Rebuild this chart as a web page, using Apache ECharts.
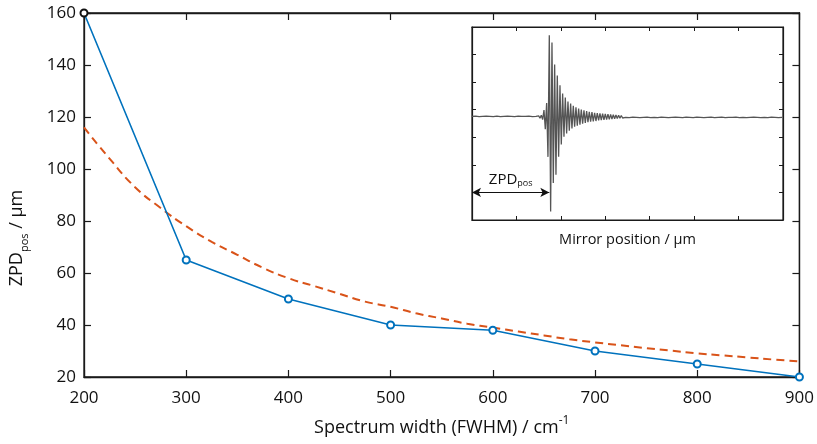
<!DOCTYPE html>
<html>
<head>
<meta charset="utf-8">
<script src="https://cdn.jsdelivr.net/npm/echarts@6/dist/echarts.min.js"></script>
<style>
html,body{margin:0;padding:0;background:#fff;}
#chart{width:817px;height:444px;}
</style>
</head>
<body>
<div id="chart"></div>
<script>
// ---- main chart data ----
const xTicks = [200, 300, 400, 500, 600, 700, 800, 900];
const yTicks = [20, 40, 60, 80, 100, 120, 140, 160];
const widths = [200, 300, 400, 500, 600, 700, 800, 900];
const zpdMeasured = [160, 65, 50, 40, 38, 30, 25, 20];
const fitWidths = [200, 225, 250, 275, 300, 325, 350, 375, 400, 425, 450, 475, 500, 525, 550, 575, 600, 625, 650, 675, 700, 725, 750, 775, 800, 825, 850, 875, 900];
const fitValues = [116, 104, 93, 85, 78, 72, 67, 62, 58, 55, 52, 49, 47, 44.5, 42.5, 40.5, 39, 37.5, 36, 34.5, 33.3, 32.2, 31.1, 30.1, 29.1, 28.3, 27.5, 26.7, 26];

// ---- inset (interferogram) data ----
const insetBaseline = 3.74;
const preStart = 0, preStep = 0.04;
const preNoise = [0.02,-0.01,0.03,-0.02,0.01,-0.03,0.02,-0.02,0.03,-0.01,0.02,-0.03,0.01,-0.02,0.03,-0.02,0.01,-0.03,0.02,-0.01,0.03,-0.02,0.02,-0.03,0.01,-0.02,0.03,-0.01,0.02,-0.03,0.02,-0.01,0.03,-0.02,0.01,-0.03,0.02,-0.02];
const burstStart = 1.50, burstStep = 0.03;
const burst = [0.04,-0.05,0.06,-0.1,0.25,-0.45,0.5,-1.45,2.96,-3.43,2.7,-2.4,1.9,-2.1,1.5,-1.45,1.15,-1.0,0.85,-0.72,0.7,-0.6,0.56,-0.5,0.48,-0.42,0.4,-0.36,0.35,-0.32,0.3,-0.28,0.27,-0.25,0.24,-0.22,0.21,-0.19,0.18,-0.17,0.17,-0.16,0.15,-0.15,0.14,-0.13,0.13,-0.12,0.12,-0.11,0.11,-0.1,0.1,-0.09,0.09,-0.08,0.08,-0.07,0.07,-0.06,0.06,-0.05,0.05,-0.04];
const postStart = 3.42, postStep = 0.04;
const postNoise = [
  0.03,-0.02,0.01,-0.03,0.02,-0.01,0.03,-0.02,0.02,-0.03,
  0.01,-0.02,0.03,-0.01,0.02,-0.03,0.02,-0.02,0.01,-0.03,
  0.03,-0.01,0.02,-0.02,0.03,-0.03,0.01,-0.02,0.02,-0.01,
  0.03,-0.02,0.02,-0.03,0.01,-0.01,0.03,-0.02,0.02,-0.03,
  0.02,-0.01,0.03,-0.02,0.01,-0.03,0.02,-0.02,0.03,-0.01,
  0.01,-0.03,0.02,-0.02,0.03,-0.01,0.02,-0.03,0.01,-0.02,
  0.03,-0.02,0.02,-0.01,0.01,-0.03,0.03,-0.02,0.02,-0.03,
  0.01,-0.02,0.03,-0.01,0.02,-0.02,0.03,-0.03,0.01,-0.02,
  0.02,-0.03,0.03,-0.01,0.02,-0.02,0.01,-0.03,0.03,-0.02];
const zpdArrowPos = 1.74;
const zpdArrowLevel = 1.0;

function seg(start, step, vals) {
  return vals.map((v, i) => [+(start + i * step).toFixed(4), v + insetBaseline]);
}
const insetData = seg(preStart, preStep, preNoise)
  .concat(seg(burstStart, burstStep, burst))
  .concat(seg(postStart, postStep, postNoise));

const FONT = '"Open Sans", "Noto Sans", sans-serif';
const AX = '#1a1a1a';

function mainX(pos, showLabels) {
  return {
    type: 'value', gridIndex: 0, position: pos,
    min: xTicks[0], max: xTicks[xTicks.length - 1], interval: 100,
    axisLine: { show: true, onZero: false, lineStyle: { color: AX, width: 1.3 } },
    axisTick: { show: true, inside: true, length: 7, lineStyle: { color: AX, width: 1.2 } },
    axisLabel: { show: showLabels, fontFamily: FONT, fontSize: 17, color: '#111', margin: 13 },
    splitLine: { show: false }
  };
}
function mainY(pos, showLabels) {
  return {
    type: 'value', gridIndex: 0, position: pos,
    min: yTicks[0], max: yTicks[yTicks.length - 1], interval: 20,
    axisLine: { show: true, onZero: false, lineStyle: { color: AX, width: 1.3 } },
    axisTick: { show: true, inside: true, length: 7, lineStyle: { color: AX, width: 1.2 } },
    axisLabel: { show: showLabels, fontFamily: FONT, fontSize: 17, color: '#111', margin: 8 },
    splitLine: { show: false }
  };
}
function insetAxis(pos) {
  return {
    type: 'value', gridIndex: 1, position: pos,
    min: 0, max: 7, interval: 1,
    axisLine: { show: true, onZero: false, lineStyle: { color: AX, width: 1.2 } },
    axisTick: { show: true, inside: true, length: 4, lineStyle: { color: AX, width: 1 } },
    axisLabel: { show: false },
    splitLine: { show: false }
  };
}

const chart = echarts.init(document.getElementById('chart'), null, { renderer: 'canvas' });

const xMain = mainX('bottom', true);
xMain.name = '{a|Spectrum width (FWHM) / cm}{s|-1}';
xMain.nameLocation = 'middle';
xMain.nameGap = 38;
xMain.nameTextStyle = {
  rich: {
    a: { fontFamily: FONT, fontSize: 18, color: '#111', lineHeight: 26 },
    s: { fontFamily: FONT, fontSize: 12, color: '#111', lineHeight: 12, verticalAlign: 'top' }
  }
};
const yMain = mainY('left', true);
yMain.name = '{a|ZPD}{b|pos}{a| / μm}';
yMain.nameLocation = 'middle';
yMain.nameGap = 54;
yMain.nameTextStyle = {
  padding: [0, 86, 0, 0],
  rich: {
    a: { fontFamily: FONT, fontSize: 18, color: '#111', lineHeight: 26 },
    b: { fontFamily: FONT, fontSize: 11, color: '#111', lineHeight: 12, verticalAlign: 'bottom' }
  }
};

const xInset = insetAxis('bottom');
xInset.name = 'Mirror position / μm';
xInset.nameLocation = 'middle';
xInset.nameGap = 12;
xInset.nameTextStyle = { fontFamily: FONT, fontSize: 14.5, color: '#111' };

chart.setOption({
  animation: false,
  backgroundColor: '#fff',
  grid: [
    { left: 83, right: 15, top: 13, bottom: 67, containLabel: false,
      show: true, backgroundColor: 'transparent', borderColor: AX, borderWidth: 1.3 },
    { left: 472, top: 27, width: 311, height: 193, containLabel: false,
      show: true, backgroundColor: '#fff', borderColor: AX, borderWidth: 1.2 }
  ],
  xAxis: [xMain, mainX('top', false), xInset, insetAxis('top')],
  yAxis: [yMain, mainY('right', false), insetAxis('left'), insetAxis('right')],
  series: [
    {
      type: 'line', xAxisIndex: 0, yAxisIndex: 0,
      data: fitWidths.map((w, i) => [w, fitValues[i]]),
      smooth: true, showSymbol: false,
      lineStyle: { color: '#D95319', width: 2, type: [8, 5] },
      z: 2
    },
    {
      type: 'line', xAxisIndex: 0, yAxisIndex: 0,
      data: widths.map((w, i) => i === 0
        ? { value: [w, zpdMeasured[i]], itemStyle: { color: '#111', borderColor: '#111' } }
        : [w, zpdMeasured[i]]),
      symbol: 'emptyCircle', symbolSize: 7,
      itemStyle: { color: '#0072BD', borderColor: '#0072BD', borderWidth: 1.5 },
      lineStyle: { color: '#0072BD', width: 1.6 },
      z: 3
    },
    {
      type: 'line', xAxisIndex: 2, yAxisIndex: 2,
      data: insetData,
      showSymbol: false,
      lineStyle: { color: '#555', width: 1.3 },
      z: 6,
      markLine: {
        silent: true,
        symbol: ['arrow', 'arrow'],
        symbolSize: [7, 9],
        lineStyle: { color: '#111', width: 1, type: 'solid' },
        label: {
          show: true, position: 'insideMiddleTop', distance: 4,
          formatter: '{a|ZPD}{b|pos}',
          rich: {
            a: { fontFamily: FONT, fontSize: 15, color: '#111', lineHeight: 18 },
            b: { fontFamily: FONT, fontSize: 9, color: '#111', lineHeight: 10, verticalAlign: 'bottom' }
          }
        },
        data: [[{ coord: [0, zpdArrowLevel] }, { coord: [zpdArrowPos, zpdArrowLevel] }]]
      }
    }
  ]
});
</script>
</body>
</html>
